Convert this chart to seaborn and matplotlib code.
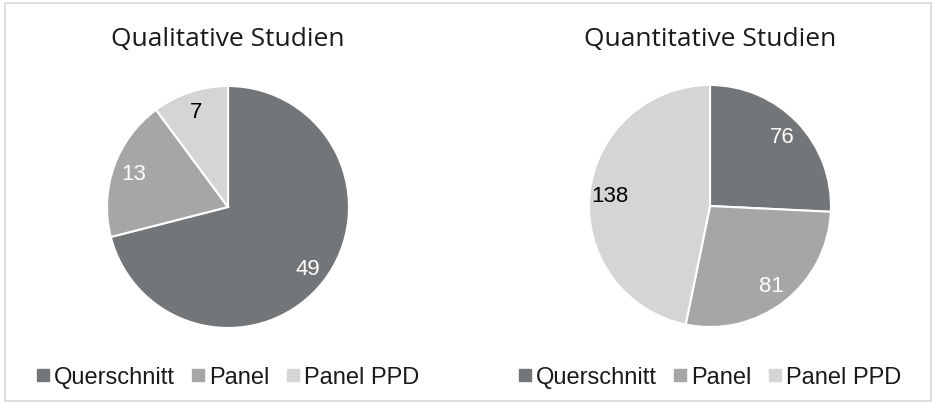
import seaborn as sns
import matplotlib.pyplot as plt
from matplotlib.lines import Line2D
from matplotlib.patches import Rectangle

# --- Studien nach Datentyp (zwei Tortendiagramme) ---

categories = ['Querschnitt', 'Panel', 'Panel PPD']
qual_values = [49, 13, 7]
quant_values = [76, 81, 138]
titles = ['Qualitative Studien', 'Quantitative Studien']

sns.set_theme(style='white')
plt.rcParams['font.family'] = ['Liberation Sans', 'DejaVu Sans']

colors = ['#737678', '#a5a6a7', '#d4d5d5']
label_colors = ['white', 'white', 'black']

fig = plt.figure(figsize=(9.34, 4.06), dpi=100)
W, H = 934, 406
fig.patches.append(Rectangle((5 / W, 4 / H), 926 / W, 398 / H, transform=fig.transFigure,
                             fill=False, edgecolor='#d9d9d9', linewidth=1.2))

R = 121
centers = [(228, 208), (710, 207)]

for (cx, cy), values, title in zip(centers, [qual_values, quant_values], titles):
    ax = fig.add_axes([(cx - R) / W, (H - cy - R) / H, 2 * R / W, 2 * R / H])
    wedges, texts = ax.pie(values, colors=colors, startangle=90, counterclock=False,
                           labels=[str(v) for v in values], labeldistance=0.83,
                           wedgeprops=dict(edgecolor='white', linewidth=1.5),
                           textprops=dict(fontsize=16))
    for t, c in zip(texts, label_colors):
        t.set_color(c)
        t.set_horizontalalignment('center')
        t.set_verticalalignment('center')
    ax.set_xlim(-1, 1)
    ax.set_ylim(-1, 1)
    ax.set_aspect('equal')
    fig.text(cx / W, (H - 40) / H, title, ha='center', va='center',
             fontsize=19, family=['Open Sans', 'DejaVu Sans'], color='#1a1a1a')

    handles = [Line2D([], [], marker='s', linestyle='none', markersize=8.5,
                      markerfacecolor=c, markeredgecolor=c) for c in colors]
    ax.legend(handles, categories, loc='center', ncol=3, frameon=False,
              bbox_to_anchor=(0.5, (H - 378 - (H - cy - R)) / (2 * R)),
              fontsize=17, handlelength=0.55, handletextpad=0.2,
              columnspacing=0.7, labelcolor='#1a1a1a')

plt.savefig('out.png', dpi=100)
